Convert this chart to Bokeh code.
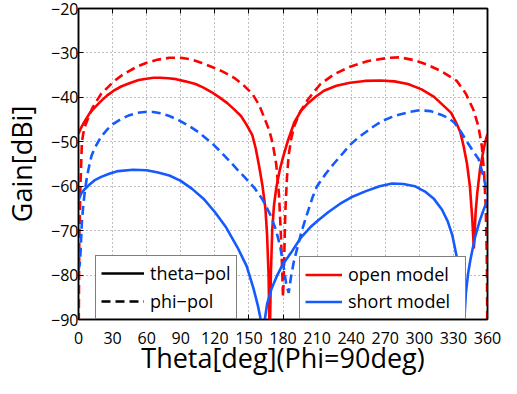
from bokeh.plotting import figure
from bokeh.models import Legend, LegendItem, LinearAxis, FixedTicker, Range1d
from bokeh.embed import file_html
from bokeh.resources import INLINE

FONT = "Open Sans"
RED = "#FF0000"
BLUE = "#145AFF"
NAN = float("nan")

# ---- data ----
x_ticks = [0, 30, 60, 90, 120, 150, 180, 210, 240, 270, 300, 330, 360]
y_ticks = [-90, -80, -70, -60, -50, -40, -30, -20]
y_tick_labels = ["\u221290", "\u221280", "\u221270", "\u221260", "\u221250", "\u221240", "\u221230", "\u221220"]
x_title = "Theta[deg](Phi=90deg)"
y_title = "Gain[dBi]"

# open model, theta-pol (red solid)
open_theta_deg = [0, 2, 5, 10, 15, 20, 25, 31, 38, 46, 53, 60, 66, 72, 79, 86, 94, 103, 110, 117,
                  124, 131, 137, 143, 148, 153, 156, 159, 162, 164.5, 166, 167.3, 168.3, 169.3,
                  170.5, 172, 174, 177, 180, 184, 190, 196, 202, 209, 216, 227, 239, 252, 266, 278,
                  290, 302, 313, 321, 328, 333, 336, 339, 342, 344.5, 346.5, 348, 349.5, 351,
                  353.5, 356, 358, 360]
open_theta_gain = [-48.2, -47, -45.6, -43.5, -42.1, -40.8, -39.6, -38.5, -37.5, -36.7, -36.1, -35.8,
                   -35.6, -35.6, -35.7, -35.9, -36.4, -37.0, -37.8, -38.8,
                   -40, -41.3, -42.7, -44.2, -46.2, -48.5, -51.5, -55.5, -60, -65, -71, -80, -96, -80,
                   -70, -64.5, -60.5, -56.5, -53.5, -50, -45.6, -43, -41.3, -39.8, -38.5, -37.4,
                   -36.7, -36.3, -36.2, -36.4,
                   -37.0, -38.2, -39.9, -41.8, -43.5, -46, -47.8, -51, -55, -60, -67, -74, -66, -61.5,
                   -56, -52.5, -50, -48.2]

# open model, phi-pol (red dashed)
open_phi_deg = [0, 0.7, 1.7, 3, 5, 8, 12, 16, 20, 26, 31.5, 40, 51.5, 60, 70, 80, 90, 100, 108, 117,
                127, 137, 145, 153, 159, 164, 168, 171, 174, 176.5, 178, 179.3, 180, 180.8, 182,
                183.5, 185, 187.5, 190, 195, 201.6, 207, 213, 225, 239, 255, 273, 283, 295, 307.5,
                320, 333, 341, 347.6, 352, 355, 357, 358.5, 359.5, 360]
open_phi_gain = [-100, -72, -60, -50, -47, -45, -42.5, -40.8, -39.2, -37.7, -36.3, -34.7, -33.1,
                 -32.2, -31.5, -31.1, -31.1, -31.5, -32.2, -33.1,
                 -34.2, -35.6, -37.2, -39.2, -41.7, -44.9, -47.5, -50.5, -55, -62, -70, -79, -85,
                 -79, -66, -58, -53, -49, -46.4, -43.3, -40.6, -38.8, -37, -34.8, -33.1, -31.8,
                 -31.1, -31, -31.6, -32.7,
                 -34.2, -36.3, -39.2, -42.8, -46.5, -51, -57, -65, -78, -100]

# short model, theta-pol (blue solid)
short_theta_deg = [0, 2, 5, 9, 14, 20, 27, 35, 48, 60, 70, 80, 90, 100, 110, 120, 130, 140, 148,
                   154, 158, 160, 162, 164, 166, 170, 175, 180, 187, 196, 205, 210, 220, 230, 240,
                   253, 265, 276, 286, 296, 305, 313, 320, 325, 329, 333, 336, 338.5, 341, 343,
                   345, 349, 353, 357, 360]
short_theta_gain = [-63.2, -61.8, -60.8, -59.8, -58.7, -57.9, -57.2, -56.6, -56.3, -56.4, -56.9,
                    -57.6, -58.8, -60.6, -62.8, -65.8, -69.3, -73.8, -78,
                    -83, -87, -89.5, -95, -90, -86.5, -83, -80, -77.5, -75, -71.5, -69, -67.9,
                    -65.8, -64, -62.5,
                    -61.1, -60, -59.4, -59.5, -60, -61.2, -62.9, -65.3, -67.9, -71, -76, -82,
                    -95, -84, -79.5,
                    -76.5, -71.5, -67.9, -65, -63.2]

# short model, phi-pol (blue dashed)
short_phi_deg = [0, 1.4, 3, 4.3, 5.7, 7.1, 8.6, 11.4, 14.3, 20, 25.8, 31, 37.2, 44, 51.5, 58, 65.9,
                 73, 80, 88, 97.3, 106, 117.4, 125, 131.7, 140, 147, 154.6, 162, 169, 174, 177.6,
                 180.5, 183, 185, 187, 189.5, 192, 196, 200, 206, 210, 217, 224.5, 232, 239, 246,
                 253, 260, 267.5, 275, 282, 291, 300, 310, 319, 325, 330.5, 336, 342, 347, 352,
                 355, 357.5, 360]
short_phi_gain = [-79, -77, -68, -64, -61, -58.5, -56.4, -53.2, -51.4, -48.8, -47.1, -45.9, -44.9,
                  -44.1, -43.5, -43.3, -43.3,
                  -43.6, -44.2, -45.1, -46.4, -47.9, -50.3, -52.2, -54, -56.3, -58.2, -60.3, -63,
                  -66.5, -70, -73.7,
                  -78, -82.3, -84, -80.5, -77, -74.5, -70.5, -67.2, -62.5, -60, -57.4, -55, -52.8,
                  -50.7, -49.1,
                  -47.8, -46.5, -45.3, -44.5, -43.9, -43.3, -42.9, -43.1, -43.9, -44.6, -45.6,
                  -47.5, -50, -52, -53.8,
                  -56.5, -59, -62]

# ---- figure ----
p = figure(width=501, height=378,
           x_range=Range1d(0, 360), y_range=Range1d(-90, -20),
           output_backend="svg", toolbar_location=None,
           min_border_left=72, min_border_right=14, min_border_top=7, min_border_bottom=40,
           background_fill_color="white", border_fill_color="white")
p.outline_line_color = "black"
p.outline_line_width = 1.5

xt = FixedTicker(ticks=x_ticks)
yt = FixedTicker(ticks=y_ticks)
p.xaxis.ticker = xt
p.yaxis.ticker = yt
p.yaxis.major_label_overrides = {t: lab for t, lab in zip(y_ticks, y_tick_labels)}
p.xaxis.axis_label = x_title
p.yaxis.axis_label = y_title

for ax in (p.xaxis[0], p.yaxis[0]):
    ax.major_tick_in = 5
    ax.major_tick_out = 0
    ax.minor_tick_in = 0
    ax.minor_tick_out = 0
    ax.minor_tick_line_color = None
    ax.axis_line_width = 1.5
    ax.axis_line_color = "black"
    ax.major_tick_line_color = "black"
    ax.major_label_text_font = FONT
    ax.major_label_text_font_size = "16px"
    ax.major_label_text_color = "black"
    ax.axis_label_text_font = FONT
    ax.axis_label_text_font_size = "27px"
    ax.axis_label_text_font_style = "normal"
    ax.axis_label_text_color = "black"
p.xaxis.major_label_standoff = 12
p.xaxis.axis_label_standoff = -8
p.yaxis.major_label_standoff = 0
p.yaxis.axis_label_standoff = 8

# box ticks on top and right (no labels); the top one keeps a few px of room
for loc, tk, ticks in (("above", xt, x_ticks), ("right", yt, y_ticks)):
    a = LinearAxis(ticker=tk, major_label_overrides={t: "" for t in ticks},
                   major_label_standoff=0,
                   major_tick_in=5, major_tick_out=0, minor_tick_in=0, minor_tick_out=0,
                   minor_tick_line_color=None,
                   axis_line_width=1.5, axis_line_color="black")
    if loc == "above":
        a.axis_label = " "
        a.axis_label_text_font_size = "4px"
        a.axis_label_standoff = 0
    p.add_layout(a, loc)

for g in (p.xgrid[0], p.ygrid[0]):
    g.grid_line_color = "#808080"
    g.grid_line_dash = "1 3"
    g.grid_line_width = 1

LW = 2.6
DASH = "9 5"
r_ot = p.line(open_theta_deg, open_theta_gain, line_color=RED, line_width=LW)
r_op = p.line(open_phi_deg, open_phi_gain, line_color=RED, line_width=LW, line_dash=DASH)
r_st = p.line(short_theta_deg, short_theta_gain, line_color=BLUE, line_width=LW)
r_sp = p.line(short_phi_deg, short_phi_gain, line_color=BLUE, line_width=LW, line_dash=DASH)

# legend-only renderers (no visible data)
d_solid = p.line([NAN], [NAN], line_color="black", line_width=LW)
d_dash = p.line([NAN], [NAN], line_color="black", line_width=LW, line_dash=DASH)


def style(leg, gw, lh, sp):
    leg.border_line_color = "black"
    leg.border_line_width = 1.5
    leg.background_fill_color = "white"
    leg.background_fill_alpha = 1
    leg.label_text_font = FONT
    leg.label_text_font_size = "18px"
    leg.label_text_color = "black"
    leg.glyph_width = gw
    leg.glyph_height = lh
    leg.label_height = lh
    leg.spacing = sp
    leg.padding = 5
    leg.margin = 0
    leg.label_standoff = 6


leg1 = Legend(items=[LegendItem(label="theta\u2212pol", renderers=[d_solid]),
                     LegendItem(label="phi\u2212pol", renderers=[d_dash])],
              location=(17, 0))
style(leg1, 43, 24, 4)
leg2 = Legend(items=[LegendItem(label="open model", renderers=[r_ot]),
                     LegendItem(label="short model", renderers=[r_st])],
              location=(221, 0))
style(leg2, 37, 23, 3)
leg2.label_width = 112
p.add_layout(leg1, "center")
p.add_layout(leg2, "center")

open("out.html", "w").write(file_html(p, INLINE))
